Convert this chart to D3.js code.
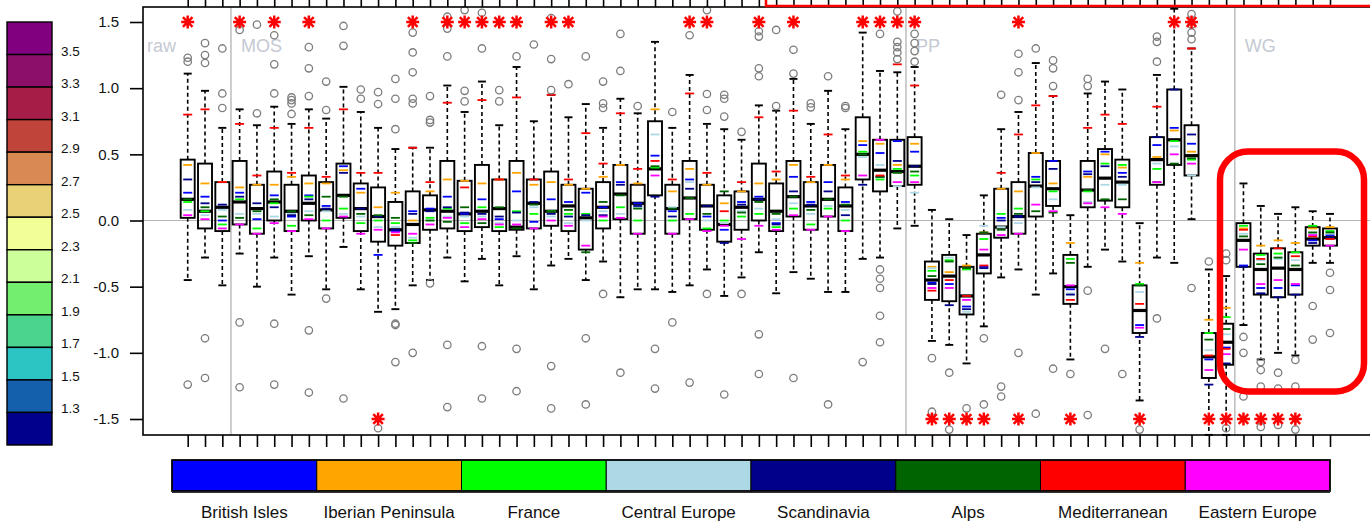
<!DOCTYPE html>
<html><head><meta charset="utf-8">
<script src="https://cdn.jsdelivr.net/npm/d3@7"></script>
<style>body{margin:0;background:#fff;}svg{display:block;font-family:"Liberation Sans",Arial,Helvetica,sans-serif;}</style>
</head><body><svg id="c" width="1370" height="523"></svg>
<script>
// ---------------- DATA ----------------
const positions = d3.range(67);
const groupNames = ["raw", "MOS", "PP", "WG"];
const groupBreaks = [2.5, 41.5, 60.5];
const yTicks = [-1.5, -1.0, -0.5, 0.0, 0.5, 1.0, 1.5];

const whiskerLow = [-0.45,-0.28,-0.49,-0.25,-0.50,-0.28,-0.56,-0.27,-0.52,-0.20,
 -0.52,-0.69,-0.67,-0.49,-0.45,-0.28,-0.46,-0.29,-0.49,-0.27,
 -0.52,-0.34,-0.29,-0.45,-0.31,-0.58,-0.52,-0.52,-0.54,-0.49,
 -0.37,-0.57,-0.43,-0.24,-0.55,-0.39,-0.44,-0.54,-0.54,-0.29,
 -0.28,-0.06,-0.04,-0.91,-0.94,-1.08,-0.80,-0.43,-0.37,-0.56,
 -0.40,-1.05,-0.35,-0.22,-0.31,-1.36,-0.28,-0.32,0.01,-1.62,
 -1.62,-0.79,-1.05,-1.00,-1.02,-0.32,-0.32];
const q1 = [0.02,-0.06,-0.08,-0.03,-0.10,0.00,-0.08,0.00,-0.06,0.02,
 -0.08,-0.16,-0.19,-0.17,-0.07,-0.06,-0.08,-0.05,-0.08,-0.07,
 -0.06,-0.04,-0.08,-0.22,-0.06,0.01,-0.10,0.19,-0.10,0.01,
 -0.07,-0.16,-0.07,0.00,-0.08,0.03,-0.07,0.03,-0.08,0.31,
 0.22,0.26,0.27,-0.60,-0.61,-0.71,-0.40,-0.13,-0.10,0.03,
 0.11,-0.63,0.10,0.15,0.10,-0.85,0.27,0.42,0.34,-1.19,
 -1.09,-0.35,-0.56,-0.58,-0.56,-0.19,-0.19];
const median = [0.16,0.07,0.10,0.14,0.09,0.14,0.07,0.13,0.08,0.19,
 0.09,0.03,-0.07,-0.03,0.08,0.07,0.05,0.07,0.09,-0.05,
 0.13,0.07,0.11,0.02,0.10,0.20,0.13,0.39,0.09,0.17,
 0.11,-0.03,0.10,0.16,0.07,0.18,0.11,0.16,0.11,0.50,
 0.38,0.37,0.41,-0.45,-0.42,-0.57,-0.26,-0.05,0.03,0.26,
 0.24,-0.50,0.23,0.32,0.29,-0.68,0.46,0.61,0.49,-1.03,
 -0.92,-0.15,-0.37,-0.36,-0.37,-0.14,-0.13];
const q3 = [0.46,0.43,0.29,0.45,0.27,0.37,0.27,0.34,0.29,0.43,
 0.28,0.25,0.14,0.22,0.19,0.45,0.30,0.42,0.31,0.45,
 0.31,0.37,0.27,0.24,0.29,0.42,0.27,0.75,0.27,0.45,
 0.27,0.19,0.22,0.43,0.28,0.45,0.29,0.42,0.25,0.78,
 0.61,0.61,0.63,-0.31,-0.26,-0.35,-0.10,0.24,0.29,0.51,
 0.45,-0.26,0.45,0.54,0.46,-0.49,0.63,0.99,0.72,-0.85,
 -0.78,-0.02,-0.25,-0.21,-0.24,-0.05,-0.06];
const whiskerHigh = [1.11,0.98,0.70,0.84,0.72,0.86,0.73,0.84,0.77,1.01,
 0.82,0.70,0.54,0.55,0.55,1.02,0.82,1.05,0.72,1.16,
 0.75,0.95,0.78,0.88,0.70,0.92,0.81,1.35,0.70,1.10,
 0.73,0.69,0.61,0.87,0.83,1.07,0.73,0.98,0.69,1.42,
 1.13,1.12,1.16,0.08,0.01,-0.11,0.19,0.69,0.82,1.19,
 0.94,0.04,0.96,1.05,0.99,-0.02,1.10,1.60,1.30,-0.37,
 -0.42,0.28,0.11,0.05,0.10,0.07,0.05];

const regionNames = ["British Isles","Iberian Peninsula","France","Central Europe","Scandinavia","Alps","Mediterranean","Eastern Europe"];
const regionColors = ["#0000ff","#ffa500","#00ff00","#add8e6","#00008b","#006400","#ff0000","#ff00ff"];

const britishIsles = [0.21,0.18,0.00,0.21,0.01,0.19,0.03,0.19,0.11,0.41,
 0.24,-0.26,-0.08,0.07,0.09,0.18,0.05,0.16,0.01,0.22,
 -0.01,0.16,0.14,0.21,0.10,0.29,0.13,0.49,0.07,0.31,
 0.03,-0.07,0.14,0.18,-0.02,0.33,0.14,0.29,0.14,0.57,
 0.51,0.60,0.52,-0.47,-0.48,-0.65,-0.35,0.02,0.03,0.33,
 0.45,-0.52,0.37,0.52,0.36,-0.79,0.57,0.70,0.58,-1.05,
 -0.96,-0.34,-0.51,-0.51,-0.49,-0.15,-0.11];
const iberianPeninsula = [0.42,0.28,0.29,0.25,0.27,0.27,0.33,0.28,0.28,0.38,
 0.21,0.10,0.21,0.00,0.22,0.31,0.30,0.28,0.31,0.36,
 0.27,0.29,0.27,0.24,0.33,0.42,0.28,0.84,0.22,0.39,
 0.27,0.13,0.22,0.28,0.31,0.42,0.29,0.42,0.31,0.60,
 0.58,0.42,0.58,-0.35,-0.39,-0.34,-0.09,0.24,0.22,0.51,
 0.28,-0.17,0.33,0.50,0.40,-0.32,0.48,0.68,0.52,-0.75,
 -0.66,-0.06,-0.19,-0.15,-0.17,-0.06,-0.05];
const france = [0.14,0.07,-0.03,0.16,-0.06,0.13,-0.04,0.18,0.00,0.09,
 -0.02,0.00,-0.02,-0.15,0.02,0.09,-0.02,0.10,-0.05,0.07,
 0.05,0.07,0.05,0.05,0.00,0.10,0.00,0.40,0.00,0.05,
 -0.06,0.00,0.03,0.05,-0.05,0.09,-0.03,0.09,0.00,0.52,
 0.31,0.39,0.34,-0.38,-0.30,-0.37,-0.14,0.05,0.09,0.31,
 0.22,-0.29,0.22,0.43,0.42,-0.48,0.39,0.60,0.46,-0.85,
 -0.73,-0.04,-0.26,-0.25,-0.24,-0.04,-0.08];
const centralEurope = [0.08,0.04,0.08,0.05,0.05,0.03,0.05,0.07,0.07,0.05,
 0.03,-0.05,-0.05,-0.13,0.00,0.03,0.03,0.03,-0.02,0.00,
 0.10,0.03,-0.02,0.00,0.07,0.05,0.10,0.65,0.10,0.29,
 0.00,-0.02,0.07,0.09,0.01,0.13,0.05,0.11,0.08,0.48,
 0.42,0.26,0.21,-0.36,-0.28,-0.69,-0.04,-0.05,-0.02,0.25,
 0.16,-0.55,0.14,0.27,0.27,-0.54,0.43,0.56,0.34,-0.98,
 -0.86,-0.10,-0.30,-0.29,-0.30,-0.10,-0.10];
const scandinavia = [0.31,0.13,0.12,0.18,0.13,0.10,0.04,0.16,0.09,0.36,
 0.09,0.03,-0.07,0.05,0.07,0.10,0.06,0.05,0.03,0.06,
 0.14,0.05,0.03,0.04,0.04,0.27,0.11,0.18,0.03,0.24,
 0.11,-0.17,0.12,0.16,-0.03,0.22,0.12,0.22,0.04,0.27,
 0.33,0.45,0.41,-0.48,-0.64,-0.67,-0.36,0.00,0.03,0.29,
 0.39,-0.56,0.35,0.41,0.33,-0.88,0.63,0.99,0.65,-1.24,
 -1.08,-0.35,-0.55,-0.58,-0.56,-0.17,-0.13];
const alps = [0.16,0.10,0.03,0.02,0.07,0.16,0.07,0.04,0.18,0.18,
 0.05,0.04,0.02,-0.17,0.00,-0.01,0.10,-0.02,0.10,-0.06,
 0.12,0.07,0.08,-0.24,0.14,0.19,0.09,0.41,0.09,0.17,
 0.05,0.22,0.06,0.14,0.05,0.18,0.08,0.16,0.12,0.50,
 0.33,0.36,0.37,-0.42,-0.31,-0.36,-0.09,-0.07,0.05,0.07,
 0.06,-0.32,0.23,0.16,0.16,-0.49,0.29,0.43,0.47,-0.90,
 -0.82,-0.12,-0.33,-0.28,-0.34,-0.09,-0.09];
const mediterranean = [0.80,0.84,0.29,0.73,0.34,0.70,0.36,0.70,0.33,0.84,
 0.36,0.36,-0.11,0.55,0.29,0.89,0.25,0.91,0.31,0.93,
 0.31,0.95,0.31,0.66,0.43,0.81,0.39,0.45,0.31,0.96,
 0.36,0.07,0.29,0.78,0.37,0.83,0.33,0.65,0.34,null,
 0.34,1.18,1.02,-0.53,-0.45,-0.57,-0.34,0.36,0.65,0.87,
 0.94,-0.60,0.70,0.80,0.73,-0.63,0.86,null,1.30,-1.02,
 -0.97,-0.07,-0.29,-0.21,-0.27,-0.12,-0.14];
const easternEurope = [0.04,0.01,-0.06,-0.03,-0.10,-0.02,-0.08,0.01,-0.06,0.03,
 -0.10,-0.07,-0.09,-0.10,-0.03,0.02,-0.05,0.01,-0.03,-0.03,
 -0.06,0.00,-0.04,-0.19,0.03,0.02,-0.10,0.34,-0.10,0.01,
 -0.08,-0.04,-0.14,-0.04,-0.07,0.04,-0.07,0.03,-0.08,0.34,
 0.61,0.29,0.29,-0.51,-0.51,-0.60,-0.22,-0.11,-0.10,0.12,
 0.07,-0.49,0.13,0.10,0.05,-0.81,0.29,0.50,0.43,-1.13,
 -1.01,-0.22,-0.48,-0.45,-0.48,-0.11,-0.19];
const regionSeries = [britishIsles, iberianPeninsula, france, centralEurope, scandinavia, alps, mediterranean, easternEurope];

const outliers = [
 [1.20,1.23,-1.24],[1.34,1.25,1.19,-0.89,-1.19],[1.30,0.96,0.85],[1.44,-0.77,-1.26],[1.48,0.81],
 [1.40,1.18,0.96,-0.78,-1.24],[0.93,0.91,0.885,0.805],[1.31,1.15,0.94,-0.83,-1.30],[1.05,0.835,-0.59],[1.47,1.32,-1.345],
 [0.99,0.92],[0.97,0.88,-1.57],[1.07,0.92,0.69,-0.78,-0.79,-1.07],[1.42,1.27,1.12,0.92,0.885,-1.0],[0.94,0.76,0.74,-0.475],
 [1.54,1.45,1.24,-0.94,-1.41],[1.59,0.98,0.90],[1.57,1.30,-0.95,-1.345],[0.985,0.90],[1.24,-0.97,-1.29],
 [1.33],[1.53,1.22,0.985,-1.10,-1.42],[1.03],[1.24,-0.89,-1.39],[1.05,0.885,0.85,-0.555],
 [1.41,1.13,-1.15],[0.865],[-0.97,-1.27],[0.82,-0.77],[1.40,-1.225],
 [1.59,0.956,0.835,-0.555],[0.95,0.92,0.785,-1.315],[0.67,-0.555],[1.43,1.39,1.15,1.09,-0.86,-1.16],[1.44,0.865],
 [1.29,1.11,-1.19],[0.885,0.855],[1.09,-1.39],[0.865,0.85],[-1.07],
 [1.41,-0.37,-0.44,-0.51,-0.72,-0.92],[1.58,1.35,1.31,1.27,1.22],[1.41,1.34,1.28,1.20],[-1.04,-1.445],[-1.15,-1.58],
 [-1.42],[-0.89,-1.39],[0.95,-1.255,-1.33],[1.26,1.12,0.91,-1.0],[1.30,-1.46],
 [1.21,1.15,1.016,-1.12],[-1.16],[1.07,1.016,-0.53,-1.47],[-0.97],[-1.16],
 [-1.58],[1.39,1.35,1.20,-0.74],[],[1.56,1.48,1.42,1.37,-0.51],[-0.31],
 [-0.25,-0.30,-1.57],[-0.88,-1.0,-1.33],[-1.07,-1.13,-1.255,-1.56],[-1.15,-1.27,-1.545],[-1.054,-1.255,-1.58],
 [-0.646,-0.90],[-0.395,-0.525,-0.85]
];
const starsTop = [0,3,5,7,13,15,16,17,18,19,21,22,29,30,33,35,39,40,41,42,48,57,58];
const starsBottom = [11,43,44,45,46,48,51,55,59,60,61,62,63,64];

const scaleLabels = ["3.5","3.3","3.1","2.9","2.7","2.5","2.3","2.1","1.9","1.7","1.5","1.3"];
const scaleColors = ["#800080","#8c106a","#a61e48","#c0443a","#d88a52","#e9d275","#f1ff96","#ccff99","#73ee6e","#4bd48e","#2dc4c4","#1560ad","#00008c"];

// ---------------- DRAWING ----------------
const svg = d3.select("#c");
const plot = {left:143, top:7, bottom:435, right:1400};
const x = d3.scaleLinear().domain([0, 66]).range([187.7, 1330]);
const y = d3.scaleLinear().domain([-1.5, 1.5]).range([419, 22]);
const bw = 7, capw = 4, tickw = 4.5;

// zero line
svg.append("line").attr("x1", plot.left).attr("x2", plot.right)
  .attr("y1", y(0)).attr("y2", y(0)).attr("stroke", "#b5b5b5").attr("stroke-width", 1.2);
// group separators
svg.selectAll(".sep").data(groupBreaks).join("line")
  .attr("x1", d => x(d)).attr("x2", d => x(d)).attr("y1", plot.top).attr("y2", plot.bottom)
  .attr("stroke", "#bdbdbd").attr("stroke-width", 1.5);
// group labels
const labelX = [plot.left + 4, x(groupBreaks[0]) + 10, x(groupBreaks[1]) + 10, x(groupBreaks[2]) + 10];
svg.selectAll(".glab").data(groupNames).join("text")
  .attr("x", (d, i) => labelX[i]).attr("y", 52).text(d => d)
  .attr("font-size", 18).attr("fill", "#c4c9d3");

// whiskers, boxes
const g = svg.append("g");
positions.forEach(i => {
  const cx = x(i);
  const gi = g.append("g");
  gi.append("line").attr("x1", cx).attr("x2", cx).attr("y1", y(q3[i])).attr("y2", y(whiskerHigh[i]))
    .attr("stroke", "#000").attr("stroke-width", 1.6).attr("stroke-dasharray", "4,3");
  gi.append("line").attr("x1", cx).attr("x2", cx).attr("y1", y(q1[i])).attr("y2", y(whiskerLow[i]))
    .attr("stroke", "#000").attr("stroke-width", 1.6).attr("stroke-dasharray", "4,3");
  [whiskerHigh[i], whiskerLow[i]].forEach(v => {
    gi.append("line").attr("x1", cx - capw).attr("x2", cx + capw).attr("y1", y(v)).attr("y2", y(v))
      .attr("stroke", "#000").attr("stroke-width", 1.9);
  });
  gi.append("rect").attr("x", cx - bw).attr("width", 2 * bw)
    .attr("y", y(q3[i])).attr("height", y(q1[i]) - y(q3[i]))
    .attr("fill", "none").attr("stroke", "#000").attr("stroke-width", 1.9);
  gi.append("line").attr("x1", cx - bw).attr("x2", cx + bw).attr("y1", y(median[i])).attr("y2", y(median[i]))
    .attr("stroke", "#000").attr("stroke-width", 3.2);
  regionSeries.forEach((s, r) => {
    if (s[i] == null) return;
    gi.append("line").attr("x1", cx - tickw).attr("x2", cx + tickw).attr("y1", y(s[i])).attr("y2", y(s[i]))
      .attr("stroke", regionColors[r]).attr("stroke-width", 1.8);
  });
  outliers[i].forEach(v => {
    gi.append("circle").attr("cx", cx).attr("cy", y(v)).attr("r", 3.7)
      .attr("fill", "none").attr("stroke", "#7d7d7d").attr("stroke-width", 1.3);
  });
});

// stars
const starPath = (cx, cy) => {
  const r = 6.5, d = 4.8;
  return `M${cx - r},${cy}H${cx + r}M${cx},${cy - r}V${cy + r}M${cx - d},${cy - d}L${cx + d},${cy + d}M${cx - d},${cy + d}L${cx + d},${cy - d}`;
};
svg.selectAll(".st").data(starsTop).join("path").attr("d", i => starPath(x(i), y(1.5)))
  .attr("stroke", "#ff0000").attr("stroke-width", 2.5).attr("fill", "none");
svg.selectAll(".sb").data(starsBottom).join("path").attr("d", i => starPath(x(i), y(-1.5)))
  .attr("stroke", "#ff0000").attr("stroke-width", 2.5).attr("fill", "none");

// frame
svg.append("rect").attr("x", plot.left).attr("y", plot.top).attr("width", plot.right - plot.left)
  .attr("height", plot.bottom - plot.top).attr("fill", "none").attr("stroke", "#000").attr("stroke-width", 1.6);

// axes
const yAxis = svg.append("g").attr("transform", `translate(${plot.left},0)`)
  .call(d3.axisLeft(y).tickValues(yTicks).tickFormat(d => d.toFixed(1)).tickSize(13).tickPadding(11));
const xAxisB = svg.append("g").attr("transform", `translate(0,${plot.bottom})`)
  .call(d3.axisBottom(x).tickValues(positions).tickFormat("").tickSize(12));
const xAxisT = svg.append("g").attr("transform", `translate(0,${plot.top})`)
  .call(d3.axisTop(x).tickValues(positions).tickFormat("").tickSize(8));
[yAxis, xAxisB, xAxisT].forEach(a => {
  a.select(".domain").remove();
  a.selectAll(".tick line").attr("stroke", "#000").attr("stroke-width", 1.6);
  a.selectAll("text").attr("font-size", 15).attr("fill", "#111")
    .attr("font-family", '"Liberation Sans",Arial,sans-serif');
});

// annotation rectangles
svg.append("rect").attr("x", 766).attr("y", -10).attr("width", 700).attr("height", 16)
  .attr("fill", "none").attr("stroke", "#ff0000").attr("stroke-width", 2.5);
svg.append("rect").attr("x", 1220).attr("y", 151.5).attr("width", 144).attr("height", 240)
  .attr("rx", 28).attr("fill", "none").attr("stroke", "#ff0000").attr("stroke-width", 6.5);

// colour scale on the left
const cb = {x: 7, w: 45, top: 22, bottom: 445};
const cellH = (cb.bottom - cb.top) / scaleColors.length;
svg.selectAll(".cb").data(scaleColors).join("rect")
  .attr("x", cb.x).attr("width", cb.w).attr("y", (d, i) => cb.top + i * cellH).attr("height", cellH)
  .attr("fill", d => d).attr("stroke", "#000").attr("stroke-width", 1.4);
svg.selectAll(".cbl").data(scaleLabels).join("text")
  .attr("x", 61).attr("y", (d, i) => cb.top + (i + 1) * cellH + 1).text(d => d)
  .attr("font-size", 13.5).attr("fill", "#111");

// region legend at bottom
const lg = {left: 172, right: 1330, top: 460, h: 31};
const lx = d3.scaleBand().domain(regionNames).range([lg.left, lg.right]);
svg.selectAll(".lg").data(regionNames).join("rect")
  .attr("x", d => lx(d)).attr("width", lx.bandwidth()).attr("y", lg.top).attr("height", lg.h)
  .attr("fill", (d, i) => regionColors[i]).attr("stroke", "#000").attr("stroke-width", 1);
svg.append("rect").attr("x", lg.left).attr("y", lg.top).attr("width", lg.right - lg.left).attr("height", lg.h)
  .attr("fill", "none").attr("stroke", "#000").attr("stroke-width", 1.6);
svg.append("line").attr("x1", lg.left).attr("x2", lg.right).attr("y1", lg.top + lg.h + 1.5).attr("y2", lg.top + lg.h + 1.5)
  .attr("stroke", "#333").attr("stroke-width", 1.2);
svg.selectAll(".lgt").data(regionNames).join("text")
  .attr("x", d => lx(d) + lx.bandwidth() / 2).attr("y", 518).attr("text-anchor", "middle")
  .text(d => d).attr("font-size", 17).attr("fill", "#111");
</script></body></html>
